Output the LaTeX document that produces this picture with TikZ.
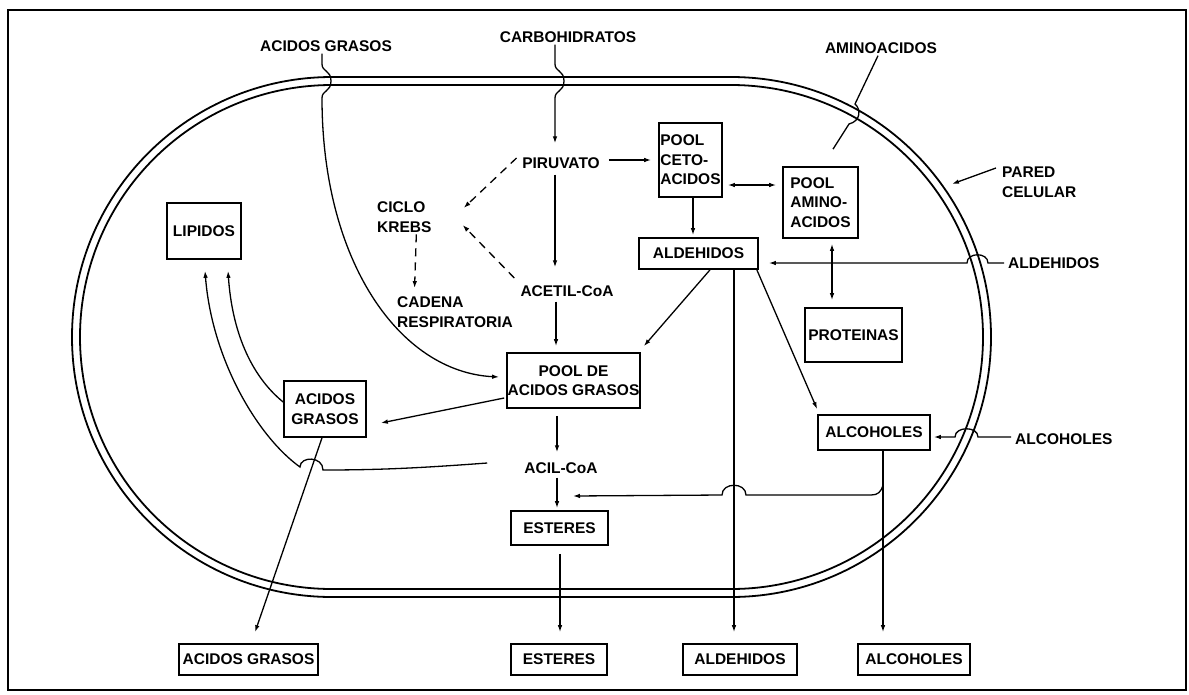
\documentclass[tikz,border=0pt]{standalone}
\usepackage{fontspec}
\setmainfont{Liberation Sans}
\usetikzlibrary{arrows.meta}
\begin{document}
\begin{tikzpicture}[x=1pt,y=-1pt,
  lbl/.style={font=\fontsize{15.5}{19.5}\selectfont\bfseries, inner sep=2pt, align=center},
  box/.style={draw, line width=1.7pt, inner sep=0pt, font=\fontsize{15.5}{19.5}\selectfont\bfseries, align=center},
  conn/.style={line width=1.3pt},
  arr/.style={conn, -{Latex[length=7pt,width=4.6pt]}},
  darr/.style={conn, {Latex[length=7pt,width=4.6pt]}-{Latex[length=7pt,width=4.6pt]}},
  dsh/.style={arr, dash pattern=on 8pt off 6pt},
  wall/.style={line width=1.8pt}
]
\useasboundingbox (0,0) rectangle (1189,694);
\draw[line width=2pt] (8,10) rectangle (1186,690);

% cell wall: two concentric stadium outlines
\draw[wall, rounded corners=260pt] (72,77) rectangle (991,597);
\draw[wall, rounded corners=252pt] (80,85) rectangle (983,589);

% free labels
\node[lbl] (agtop) at (326,46) {ACIDOS GRASOS};
\node[lbl] (carb) at (568,37) {CARBOHIDRATOS};
\node[lbl] (amin) at (881,48) {AMINOACIDOS};
\node[lbl] (piru) at (561,163) {PIRUVATO};
\node[lbl] (acet) at (567,291) {ACETIL-CoA};
\node[lbl, anchor=west, align=left] (krebs) at (375,217) {CICLO\\KREBS};
\node[lbl, anchor=west, align=left] (cad) at (395,312) {CADENA\\RESPIRATORIA};
\node[lbl] (acil) at (561,468) {ACIL-CoA};
\node[lbl, anchor=west, align=left] (pared) at (1000,182) {PARED\\CELULAR};
\node[lbl, anchor=west] (aldext) at (1006,263) {ALDEHIDOS};
\node[lbl, anchor=west] (alcext) at (1013,439) {ALCOHOLES};

% boxes
\node[box, minimum width=74pt, minimum height=56pt] (lip) at (204,231) {LIPIDOS};
\node[box, minimum width=63pt, minimum height=74pt, align=left] (ceto) at (690.5,160) {POOL\\CETO-\\ACIDOS};
\node[box, minimum width=75pt, minimum height=71pt, align=left] (amino) at (820.5,202.5) {POOL\\AMINO-\\ACIDOS};
\node[box, minimum width=119pt, minimum height=31pt] (ald) at (698.5,253.5) {ALDEHIDOS};
\node[box, minimum width=97pt, minimum height=54pt] (prot) at (853.5,335) {PROTEINAS};
\node[box, minimum width=133pt, minimum height=55pt] (pool) at (573.5,380.5) {POOL DE\\ACIDOS GRASOS};
\node[box, minimum width=82pt, minimum height=56pt] (agin) at (325,409) {ACIDOS\\GRASOS};
\node[box, minimum width=112pt, minimum height=35pt] (alc) at (874,432.5) {ALCOHOLES};
\node[box, minimum width=97pt, minimum height=34pt] (est) at (559.5,528) {ESTERES};
\node[box, minimum width=139pt, minimum height=31pt] (agout) at (248.5,659.5) {ACIDOS GRASOS};
\node[box, minimum width=96pt, minimum height=31pt] (estout) at (559,659.5) {ESTERES};
\node[box, minimum width=114pt, minimum height=31pt] (aldout) at (740,659.5) {ALDEHIDOS};
\node[box, minimum width=112pt, minimum height=31pt] (alcout) at (914,659.5) {ALCOHOLES};

% free ends
\coordinate (br) at (883,485);
\coordinate (estline) at (573,496);
\coordinate (wallpt) at (952,184);

% uptake through the wall
\draw[arr] ([xshift=-4pt]agtop.south) -- (322,64)
  .. controls (322,72) and (331,70) .. (331,81)
  .. controls (331,92) and (322,90) .. (322,98)
  .. controls (322,262) and (400,372) .. ([xshift=-7pt,yshift=3.5pt]pool.west);
\draw[arr] ([xshift=-13pt]carb.south) -- (555,64)
  .. controls (555,72) and (564,70) .. (564,81)
  .. controls (564,92) and (555,90) .. (555,98)
  -- ([xshift=-6pt,yshift=12pt]piru.north);
\draw[conn] ([xshift=-3pt]amin.south) -- (855,104)
  .. controls (861,109) and (861,121) .. (849,124)
  -- ([xshift=12.5pt,yshift=17pt]amino.north);
\draw[arr] ([xshift=-2pt]aldext.west) -- (988,263)
  .. controls (988,252) and (967,252) .. (967,263)
  -- ([xshift=10pt,yshift=-9.5pt]ald.east);
\draw[arr] ([xshift=-2pt,yshift=2pt]alcext.west) -- (978,437)
  .. controls (978,426) and (955,426) .. (955,437)
  -- ([xshift=3pt,yshift=-4.5pt]alc.east);
\draw[arr] ([xshift=-4pt,yshift=14pt]pared.west) -- (wallpt);

% central pathway
\draw[arr] ([xshift=-6pt,yshift=-4pt]piru.south) -- ([xshift=-12pt,yshift=16pt]acet.north);
\draw[arr] ([xshift=-11pt,yshift=-3pt]acet.south) -- ([xshift=-17.5pt,yshift=6pt]pool.north);
\draw[arr] ([xshift=7pt,yshift=3pt]piru.east) -- ([xshift=-7pt]ceto.west);
\draw[dsh] ([xshift=-3.5pt,yshift=5pt]piru.west) -- ([xshift=30pt,yshift=9pt]krebs.east);
\draw[dsh] ([xshift=-4pt,yshift=13pt]acet.west) -- ([xshift=29pt,yshift=-8pt]krebs.east);
\draw[dsh] ([xshift=12pt]krebs.south) -- ([xshift=-40.5pt,yshift=6.5pt]cad.north);

% pools
\draw[darr] ([xshift=5pt,yshift=-25pt]ceto.east) -- ([xshift=-6pt,yshift=17.5pt]amino.west);
\draw[arr] ([xshift=2.5pt]ceto.south) -- ([xshift=-5.5pt,yshift=2pt]ald.north);
\draw[darr] ([xshift=11.5pt,yshift=-5pt]amino.south) -- ([xshift=-21.5pt,yshift=7pt]prot.north);

% aldehydes
\draw[arr] ([xshift=11.5pt]ald.south) -- ([xshift=3pt,yshift=6pt]pool.north east);
\draw[arr] ([xshift=-2pt]ald.south east) -- ([yshift=5pt]alc.north west);
\draw[arr] ([xshift=35.5pt]ald.south) -- ([xshift=-6pt,yshift=11pt]aldout.north);
\draw[arr] ([xshift=9pt]alc.south) -- ([xshift=-31pt,yshift=11pt]alcout.north);

% fatty acids and esters
\draw[arr] ([xshift=-16.5pt,yshift=-7pt]pool.south) -- ([xshift=-4pt,yshift=8pt]acil.north);
\draw[arr] ([xshift=-4pt,yshift=-2pt]acil.south) -- ([xshift=-2.5pt,yshift=2pt]est.north);
\draw[arr] ([xshift=0.5pt,yshift=-8pt]est.south) -- ([xshift=1pt,yshift=11pt]estout.north);
\draw[arr] ([xshift=-2pt,yshift=-17.5pt]pool.west) -- ([xshift=14pt,yshift=-14pt]agin.east);
\draw[arr] ([xshift=-3pt]agin.south) -- ([xshift=6.5pt,yshift=11pt]agout.north);
\draw[arr] ([yshift=7pt]agin.west) .. controls (250,375) and (232,330) .. ([xshift=24pt,yshift=-11pt]lip.south);
\draw[arr] ([xshift=-35pt,yshift=5pt]acil.west)
  .. controls (420,468) and (380,470) .. (323,470)
  .. controls (323,456) and (300,456) .. (300,467)
  .. controls (258,437) and (212,360) .. ([xshift=1pt,yshift=-11pt]lip.south);
\draw[arr] (br) .. controls (881,492) and (878,495) .. (871,495) -- (746,495)
  .. controls (746,482) and (722,482) .. (722,495) -- (estline);
\end{tikzpicture}
\end{document}
